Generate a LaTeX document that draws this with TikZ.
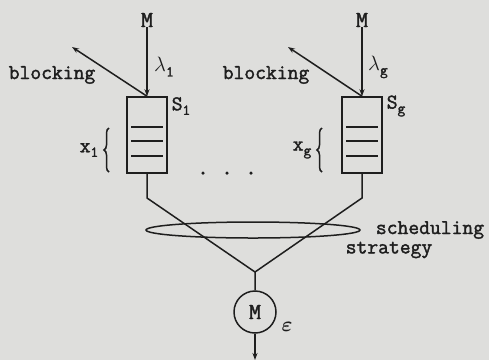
\documentclass[tikz,border=0pt]{standalone}
\usepackage{fontspec}
\setmainfont{Latin Modern Mono}[FakeBold=1.8]
\usetikzlibrary{shapes.geometric,decorations.pathreplacing,arrows.meta}
\usepackage{amsmath}
\usepackage{bm}
\definecolor{bg}{RGB}{222,222,220}
\definecolor{ink}{RGB}{30,30,30}
\newcommand{\subs}[1]{\raisebox{-0.5ex}{\fontsize{15}{15}\selectfont #1}}
\tikzset{
  every node/.style={font=\fontsize{21}{23}\selectfont, text=ink},
  queuebox/.style={draw=ink, line width=1.5pt, minimum width=40pt, minimum height=76pt, inner sep=0pt},
  ln/.style={draw=ink, line width=1.5pt},
  arr/.style={ln, -{Stealth[length=7pt,width=5pt]}},
  lbl/.style={inner sep=0pt},
  dotn/.style={circle, fill=ink, minimum size=3.5pt, inner sep=0pt},
  server/.style={circle, draw=ink, line width=1.5pt, minimum size=42pt, inner sep=0pt},
  sched/.style={ellipse, draw=ink, line width=1.5pt, minimum width=214pt, minimum height=16pt, inner sep=0pt},
  brc/.style={ln, decorate, decoration={brace, amplitude=5pt}},
  bigm/.style={font=\fontsize{23}{25}\selectfont}
}
\begin{document}
\begin{tikzpicture}[x=1pt,y=-1pt]
\fill[bg] (0,0) rectangle (489,360);
\useasboundingbox (0,0) rectangle (489,360);
% left queue
\node[lbl, bigm] (m1) at (147,20) {M};
\node[queuebox] (q1) at (147,135) {};
\draw[arr] (m1) -- (q1.north);
\coordinate (b1) at (72,47);
\draw[arr] (q1.north) -- (b1);
\node[lbl] (l1) at (164,67) {$\lambda$\subs{1}};
\node[lbl] (bl1) at (52,75) {blocking};
\node[lbl] (s1) at (181,106) {S\subs{1}};
\node[lbl] (x1) at (89,150) {x\subs{1}};
\draw[brc] (109,172) -- (109,128);
\draw[ln] (131,127) -- (163,127);
\draw[ln] (131,141) -- (163,141);
\draw[ln] (131,156) -- (163,156);
% right queue
\node[lbl, bigm] (mg) at (362,20) {M};
\node[queuebox] (qg) at (362,135) {};
\draw[arr] (mg) -- (qg.north);
\coordinate (bkg) at (288,47);
\draw[arr] (qg.north) -- (bkg);
\node[lbl] (lg) at (378,67) {$\lambda$\subs{g}};
\node[lbl] (blg) at (266,75) {blocking};
\node[lbl] (sg) at (396,106) {S\subs{g}};
\node[lbl] (xg) at (302,150) {x\subs{g}};
\draw[brc] (322,172) -- (322,128);
\draw[ln] (346,127) -- (378,127);
\draw[ln] (346,141) -- (378,141);
\draw[ln] (346,156) -- (378,156);
% dots
\node[dotn] (d1) at (203,173) {};
\node[dotn] (d2) at (227,173) {};
\node[dotn] (d3) at (251,173) {};
% merging
\coordinate (k1) at (147,198);
\coordinate (kg) at (362,198);
\coordinate (j) at (255,272);
\node[server, bigm] (srv) at (255,312) {M};
\draw[ln] (q1.south) -- (k1) -- (j) -- (srv);
\draw[ln] (qg.south) -- (kg) -- (j);
\coordinate (out) at (255,360);
\draw[arr] (srv) -- (out);
\node[lbl] (eps) at (287,327) {$\bm{\varepsilon}$};
\node[sched] (ell) at (253,230) {};
\node[lbl] (sch) at (430,230) {scheduling};
\node[lbl] (str) at (389,250) {strategy};
\end{tikzpicture}
\end{document}
